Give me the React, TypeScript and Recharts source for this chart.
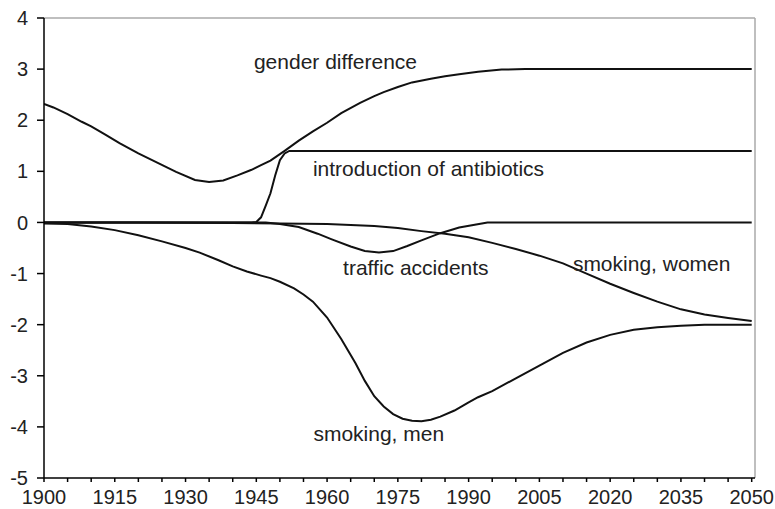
import React from 'react';
import { LineChart, Line, XAxis, YAxis, ReferenceLine, ReferenceDot } from 'recharts';

// ---- data ----
const genderYears = [1900, 1902, 1905, 1908, 1910, 1913, 1916, 1920, 1924, 1928, 1932, 1935, 1938, 1941, 1944, 1946, 1948, 1951, 1954, 1957, 1960, 1963, 1967, 1970, 1972, 1975, 1978, 1982, 1985, 1988, 1992, 1997, 2002, 2005, 2050];
const genderValues = [2.32, 2.25, 2.12, 1.97, 1.88, 1.72, 1.55, 1.35, 1.17, 0.99, 0.83, 0.79, 0.82, 0.92, 1.03, 1.12, 1.21, 1.4, 1.6, 1.78, 1.95, 2.14, 2.34, 2.47, 2.55, 2.65, 2.74, 2.81, 2.86, 2.9, 2.95, 2.99, 3.0, 3.0, 3.0];

const antibioticsYears = [1900, 1944, 1945, 1946, 1947, 1948, 1949, 1950, 1951, 1952, 2050];
const antibioticsValues = [0, 0, 0.01, 0.1, 0.33, 0.57, 0.92, 1.22, 1.35, 1.4, 1.4];

const trafficYears = [1900, 1947, 1950, 1954, 1958, 1961, 1965, 1968, 1971, 1974, 1977, 1980, 1984, 1988, 1991, 1994, 2050];
const trafficValues = [0, 0, -0.03, -0.09, -0.22, -0.33, -0.47, -0.56, -0.59, -0.56, -0.46, -0.35, -0.21, -0.1, -0.05, 0, 0];

const womenYears = [1900, 1920, 1940, 1950, 1960, 1965, 1970, 1975, 1980, 1985, 1990, 1995, 2000, 2005, 2010, 2015, 2020, 2025, 2030, 2035, 2040, 2045, 2050];
const womenValues = [0, 0, -0.01, -0.02, -0.03, -0.05, -0.07, -0.11, -0.17, -0.22, -0.29, -0.4, -0.52, -0.65, -0.8, -1.0, -1.2, -1.38, -1.55, -1.7, -1.8, -1.87, -1.93];

const menYears = [1900, 1905, 1910, 1915, 1920, 1925, 1930, 1933, 1937, 1940, 1943, 1946, 1948, 1950, 1953, 1955, 1957, 1960, 1963, 1966, 1968, 1970, 1972, 1974, 1976, 1978, 1980, 1982, 1984, 1987, 1990, 1992, 1995, 2000, 2005, 2010, 2015, 2020, 2025, 2030, 2035, 2040, 2050];
const menValues = [-0.02, -0.03, -0.08, -0.15, -0.25, -0.37, -0.5, -0.59, -0.74, -0.86, -0.96, -1.04, -1.09, -1.16, -1.29, -1.41, -1.55, -1.86, -2.28, -2.75, -3.1, -3.4, -3.6, -3.75, -3.84, -3.88, -3.89, -3.86, -3.8, -3.68, -3.52, -3.42, -3.3, -3.05, -2.8, -2.55, -2.35, -2.2, -2.1, -2.05, -2.02, -2.0, -2.0];

const xTicks = [1900, 1905, 1910, 1915, 1920, 1925, 1930, 1935, 1940, 1945, 1950, 1955, 1960, 1965, 1970, 1975, 1980, 1985, 1990, 1995, 2000, 2005, 2010, 2015, 2020, 2025, 2030, 2035, 2040, 2045, 2050];
const yTicks = [-5, -4, -3, -2, -1, 0, 1, 2, 3, 4];

const labelTexts = ['gender difference', 'introduction of antibiotics', 'traffic accidents', 'smoking, women', 'smoking, men'];
const labelYears = [1944.5, 1957.0, 1963.4, 2012.1, 1957.1];
const labelValues = [3.0, 0.91, -1.03, -0.945, -4.27];

const zip = (ys: number[], vs: number[]) => ys.map((year, i) => ({ year, v: vs[i] }));
const series = [
  zip(genderYears, genderValues),
  zip(antibioticsYears, antibioticsValues),
  zip(trafficYears, trafficValues),
  zip(womenYears, womenValues),
  zip(menYears, menValues),
];

const FONT = '"Liberation Sans", Arial, sans-serif';
const TEXT = '#222';

const XTick = (props: any) => {
  const { x, y, payload } = props;
  const v = payload.value;
  if ((v - 1900) % 15 !== 0) return null;
  return (
    <text x={x} y={y} dy="0.71em" textAnchor="middle" fontSize={20} fontFamily={FONT} fill={TEXT}>
      {v}
    </text>
  );
};

const makeLabel = (text: string) => (props: any) => {
  const vb = props.viewBox || {};
  const cx = (vb.x ?? 0) + (vb.width ?? 0) / 2;
  const cy = (vb.y ?? 0) + (vb.height ?? 0) / 2;
  return (
    <text x={cx} y={cy} textAnchor="start" fontSize={21} fontFamily={FONT} fill={TEXT}>
      {text}
    </text>
  );
};

export default function App() {
  return (
    <div style={{ position: 'absolute', left: 0, top: 0, background: '#fff' }}>
      <LineChart width={775} height={509} margin={{ top: 18, right: 20, bottom: 0, left: 0 }}>
        <XAxis
          type="number"
          dataKey="year"
          domain={[1900, 2050.7]}
          ticks={xTicks}
          interval={0}
          tick={<XTick />}
          tickSize={4}
          tickMargin={8}
          height={31}
          axisLine={{ stroke: '#000', strokeWidth: 1.5 }}
          tickLine={{ stroke: '#000', strokeWidth: 1.5 }}
          allowDataOverflow
        />
        <YAxis
          type="number"
          domain={[-5, 4]}
          ticks={yTicks}
          interval={0}
          width={44}
          tickSize={7}
          tickMargin={9}
          tick={{ fontSize: 20, fontFamily: FONT, fill: TEXT }}
          axisLine={{ stroke: '#000', strokeWidth: 1.5 }}
          tickLine={{ stroke: '#000', strokeWidth: 1.5 }}
          allowDataOverflow
        />
        <ReferenceLine y={4} stroke="#aaa" strokeWidth={1.5} />
        <ReferenceLine x={2050.7} stroke="#aaa" strokeWidth={1.5} />
        {series.map((d, i) => (
          <Line
            key={i}
            data={d}
            dataKey="v"
            type="linear"
            dot={false}
            activeDot={false}
            stroke="#111"
            strokeWidth={2}
            isAnimationActive={false}
          />
        ))}
        {labelTexts.map((t, i) => (
          <ReferenceDot
            key={t}
            x={labelYears[i]}
            y={labelValues[i]}
            r={1}
            fill="none"
            stroke="none"
            label={makeLabel(t)}
          />
        ))}
      </LineChart>
    </div>
  );
}
